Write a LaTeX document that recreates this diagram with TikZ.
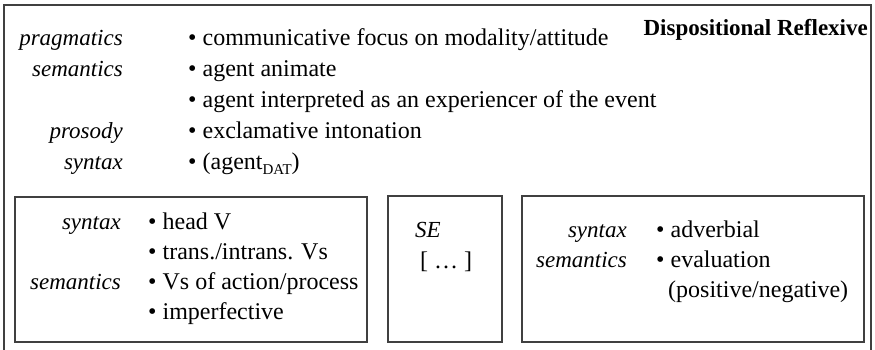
\documentclass[tikz,border=0pt]{standalone}
\usepackage{fontspec}
\setmainfont{Liberation Serif}
\begin{document}
\begin{tikzpicture}[x=1pt,y=-1pt,
  frame/.style={draw=black!75, line width=1.3pt},
  txt/.style={inner sep=0pt, font=\fontsize{24}{28}\selectfont},
  lab/.style={inner sep=0pt, anchor=base east, font=\fontsize{23}{27}\selectfont\itshape},
  item/.style={txt, anchor=base west},
]
\useasboundingbox (0,0) rectangle (875,349);

% outer frame, open at the bottom
\draw[frame] (4,352) -- (4,5) -- (871,5) -- (871,352);

\node[inner sep=0pt, anchor=base east, font=\fontsize{23}{27}\selectfont\bfseries] (title) at (868,35) {Dispositional Reflexive};

% constructional features
\node[lab] (lprag) at (123,45) {pragmatics};
\node[lab] (lsem)  at (123,76) {semantics};
\node[lab] (lpros) at (123,138) {prosody};
\node[lab] (lsyn)  at (123,169) {syntax};
\node[item] (f1) at (188,45)  {\textbullet\ communicative focus on modality/attitude};
\node[item] (f2) at (188,76)  {\textbullet\ agent animate};
\node[item] (f3) at (188,107) {\textbullet\ agent interpreted as an experiencer of the event};
\node[item] (f4) at (188,138) {\textbullet\ exclamative intonation};
\node[item] (f5) at (188,169) {\textbullet\ (agent\raisebox{-5pt}{\fontsize{15}{15}\selectfont DAT})};

% verb box
\draw[frame] (15,197) rectangle (367,342);
\node[lab] (vsyn) at (121,229) {syntax};
\node[lab] (vsem) at (121,289) {semantics};
\node[item] (v1) at (148,229) {\textbullet\ head V};
\node[item] (v2) at (148,259) {\textbullet\ trans./intrans. Vs};
\node[item] (v3) at (148,289) {\textbullet\ Vs of action/process};
\node[item] (v4) at (148,319) {\textbullet\ imperfective};

% clitic box
\draw[frame] (388,196) rectangle (502,342);
\node[inner sep=0pt, anchor=base west, font=\fontsize{23}{27}\selectfont\itshape] (se) at (415,237) {SE};
\node[item] (dots) at (420,268) {[ … ]};

% adverbial box
\draw[frame] (522,196) rectangle (864,342);
\node[lab] (asyn) at (627,237) {syntax};
\node[lab] (asem) at (627,267) {semantics};
\node[item] (a1) at (656,237) {\textbullet\ adverbial};
\node[item] (a2) at (656,267) {\textbullet\ evaluation};
\node[item] (a3) at (668,297) {(positive/negative)};
\end{tikzpicture}
\end{document}
